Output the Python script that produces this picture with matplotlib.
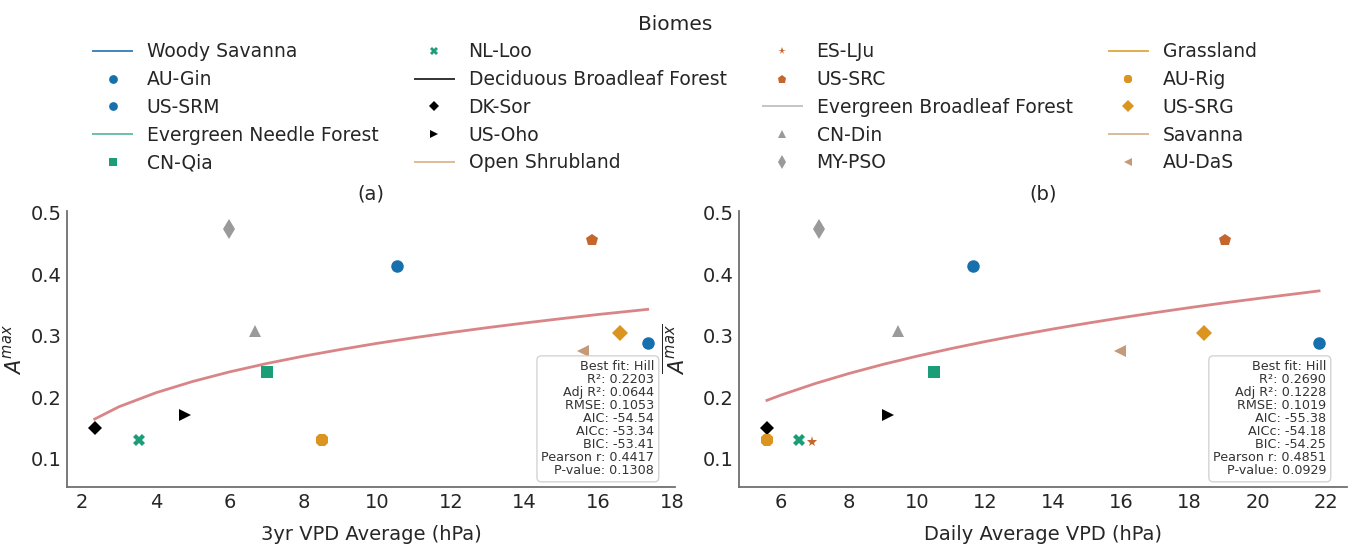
import matplotlib
matplotlib.use("Agg")
import matplotlib.pyplot as plt
from matplotlib.lines import Line2D

plt.rcParams['font.family'] = ['DejaVu Sans']

# ---- data -------------------------------------------------------------
sites = ["AU-Gin", "US-SRM", "CN-Qia", "NL-Loo", "DK-Sor", "US-Oho", "ES-LJu",
         "US-SRC", "CN-Din", "MY-PSO", "AU-Rig", "US-SRG", "AU-DaS"]
amax = [0.414, 0.289, 0.241, 0.130, 0.150, 0.171, 0.127,
        0.456, 0.308, 0.473, 0.130, 0.305, 0.276]
vpd_3yr = [10.55, 17.34, 7.02, 3.53, 2.34, 4.80, 8.50,
           15.83, 6.69, 5.98, 8.50, 16.58, 15.58]
vpd_daily = [11.65, 21.80, 10.50, 6.53, 5.59, 9.15, 6.90,
             19.03, 9.44, 7.12, 5.59, 18.41, 15.97]

biomes = ["Woody Savanna", "Evergreen Needle Forest", "Deciduous Broadleaf Forest",
          "Open Shrubland", "Evergreen Broadleaf Forest", "Grassland", "Savanna"]
biome_sites = {
    "Woody Savanna": ["AU-Gin", "US-SRM"],
    "Evergreen Needle Forest": ["CN-Qia", "NL-Loo"],
    "Deciduous Broadleaf Forest": ["DK-Sor", "US-Oho"],
    "Open Shrubland": ["ES-LJu", "US-SRC"],
    "Evergreen Broadleaf Forest": ["CN-Din", "MY-PSO"],
    "Grassland": ["AU-Rig", "US-SRG"],
    "Savanna": ["AU-DaS"],
}

# Hill fit curves
fit_a_x = [2.34, 3, 4, 5, 6, 7, 8, 9, 10, 11, 12, 13, 14, 15, 16, 17.34]
fit_a_y = [0.1645, 0.1846, 0.2073, 0.2257, 0.2413, 0.2548, 0.2668, 0.2776,
           0.2877, 0.2968, 0.3053, 0.3133, 0.3208, 0.3279, 0.3347, 0.343]
fit_b_x = [5.59, 6, 7, 8, 9, 10, 11, 12, 13, 14, 15, 16, 17, 18, 19, 20, 21.8]
fit_b_y = [0.195, 0.2035, 0.2222, 0.2387, 0.2535, 0.2669, 0.2792, 0.2906,
           0.3012, 0.3112, 0.3205, 0.3294, 0.3378, 0.3458, 0.3534, 0.3606,
           0.373]

stats_a = ["Best fit: Hill", "R²: 0.2203", "Adj R²: 0.0644", "RMSE: 0.1053",
           "AIC: -54.54", "AICc: -53.34", "BIC: -53.41",
           "Pearson r: 0.4417", "P-value: 0.1308"]
stats_b = ["Best fit: Hill", "R²: 0.2690", "Adj R²: 0.1228", "RMSE: 0.1019",
           "AIC: -55.38", "AICc: -54.18", "BIC: -54.25",
           "Pearson r: 0.4851", "P-value: 0.0929"]

# ---- styles -----------------------------------------------------------
biome_color = {
    "Woody Savanna": "#1670AD",
    "Evergreen Needle Forest": "#1B9E77",
    "Deciduous Broadleaf Forest": "#000000",
    "Open Shrubland": "#C5662E",
    "Evergreen Broadleaf Forest": "#9A9A9A",
    "Grassland": "#DB9420",
    "Savanna": "#C49A78",
}
biome_line_color = {
    "Woody Savanna": "#3F86BD",
    "Evergreen Needle Forest": "#6CC0AA",
    "Deciduous Broadleaf Forest": "#333333",
    "Open Shrubland": "#DDBB95",
    "Evergreen Broadleaf Forest": "#C4C4C4",
    "Grassland": "#E2AE4A",
    "Savanna": "#D6BB9C",
}
site_marker = {
    "AU-Gin": ("o", 9), "US-SRM": ("o", 9), "CN-Qia": ("s", 8.5),
    "NL-Loo": ("X", 8), "DK-Sor": ("D", 7), "US-Oho": (">", 8),
    "ES-LJu": ("*", 8), "US-SRC": ("p", 9), "CN-Din": ("^", 9),
    "MY-PSO": ("d", 10), "AU-Rig": ("8", 9.5), "US-SRG": ("D", 8.5),
    "AU-DaS": ("<", 8),
}
site_color = {s: biome_color[b] for b, ss in biome_sites.items() for s in ss}

fig = plt.figure(figsize=(13.54, 5.56), dpi=100)
ax_a = fig.add_axes([0.0495, 0.1241, 0.449, 0.4964])
ax_b = fig.add_axes([0.5458, 0.1241, 0.449, 0.4964])

spine_col = "#707070"
tick_col = "#262626"


def draw_panel(ax, xs, fx, fy, stats, xlim, xticks, xlabel, title, ylabelpad):
    for s, x, y in zip(sites, xs, amax):
        m, ms = site_marker[s]
        ax.plot([x], [y], linestyle="none", marker=m, markersize=ms,
                color=site_color[s], markeredgewidth=0, zorder=3)
    ax.plot(fx, fy, color="#D36F72", lw=2.0, alpha=0.85, zorder=2)
    ax.set_xlim(*xlim)
    ax.set_ylim(0.054, 0.503)
    ax.set_xticks(xticks)
    ax.set_yticks([0.1, 0.2, 0.3, 0.4, 0.5])
    ax.set_yticklabels(["0.1", "0.2", "0.3", "0.4", "0.5"])
    ax.tick_params(length=0, labelsize=14, colors=tick_col, pad=4)
    for side in ("top", "right"):
        ax.spines[side].set_visible(False)
    for side in ("left", "bottom"):
        ax.spines[side].set_color(spine_col)
        ax.spines[side].set_linewidth(1.3)
    ax.set_xlabel(xlabel, fontsize=14, color=tick_col, labelpad=10)
    ax.set_ylabel(r"$\overline{A^{max}}$", fontsize=15, color=tick_col,
                  labelpad=ylabelpad)
    ax.set_title(title, fontsize=14, color=tick_col, pad=8)
    ax.text(0.966, 0.035, "\n".join(stats), transform=ax.transAxes,
            ha="right", va="bottom", fontsize=9.2, color="#333333",
            linespacing=1.0, zorder=4,
            bbox=dict(boxstyle="round,pad=0.35", facecolor="white",
                      edgecolor="#cccccc", alpha=0.85))


draw_panel(ax_a, vpd_3yr, fit_a_x, fit_a_y, stats_a, (1.59, 18.08),
           list(range(2, 19, 2)), "3yr VPD Average (hPa)", "(a)", 3)
draw_panel(ax_b, vpd_daily, fit_b_x, fit_b_y, stats_b, (4.77, 22.62),
           list(range(6, 23, 2)), "Daily Average VPD (hPa)", "(b)", 10)

# ---- legend: biome header line followed by its sites ------------------
handles, labels = [], []
for b in biomes:
    handles.append(Line2D([], [], color=biome_line_color[b], lw=1.4))
    labels.append(b)
    for s in biome_sites[b]:
        m, ms = site_marker[s]
        handles.append(Line2D([], [], linestyle="none", marker=m,
                              markersize=ms * 0.7, color=site_color[s],
                              markeredgewidth=0))
        labels.append(s)

leg = fig.legend(handles, labels, loc="upper center", ncol=4,
                 bbox_to_anchor=(0.4985, 1.004), frameon=False, fontsize=13.5,
                 title="Biomes", title_fontsize=14.5, handlelength=2.05,
                 handletextpad=0.8, columnspacing=1.95, labelspacing=0.465)
for t in leg.get_texts():
    t.set_color(tick_col)
leg.get_title().set_color(tick_col)

fig.savefig("out.png", dpi=100, facecolor="white")
